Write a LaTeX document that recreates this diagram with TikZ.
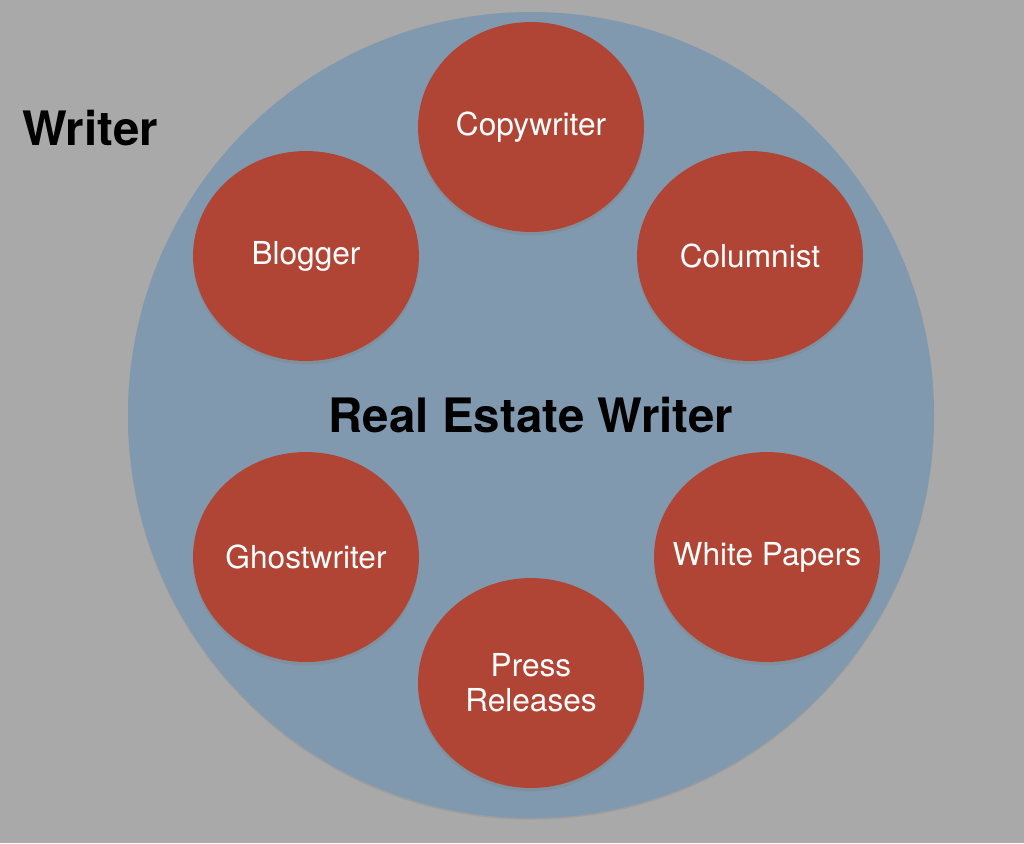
\documentclass[tikz,border=0pt]{standalone}
\usepackage{fontspec}
\setmainfont{TeX Gyre Heros}
\usetikzlibrary{shapes.geometric,shadows}
\definecolor{bggray}{RGB}{168,169,168}
\definecolor{ringblue}{RGB}{128,153,174}
\definecolor{rolered}{RGB}{176,69,53}
\tikzset{
  role/.style={ellipse, fill=rolered, inner xsep=-1.5cm, inner ysep=-0.6cm,
    minimum width=4.52cm, minimum height=4.2cm, text=white,
    font=\fontsize{18}{22}\selectfont, align=center,
    drop shadow={opacity=0.35, shadow xshift=0pt, shadow yshift=-2pt}},
  title/.style={font=\fontsize{27}{32}\selectfont\bfseries, text=black}
}
\begin{document}
\begin{tikzpicture}[x=0.02cm, y=-0.02cm]
  % Background and outer circle
  \fill[bggray] (0,0) rectangle (1024,843);
  \useasboundingbox (0,0) rectangle (1024,843);
  \fill[ringblue, drop shadow={opacity=0.25, shadow xshift=0pt, shadow yshift=-1pt}] (531,415) circle (403);
  % Labels
  \node[title] (writer) at (90,128) {Writer};
  \node[title] (rew) at (531,415) {Real Estate Writer};
  % Roles
  \node[role] (copy) at (531,127) {Copywriter};
  \node[role] (blog) at (306,256) {Blogger};
  \node[role] (column) at (750,256) {Columnist};
  \node[role] (ghost) at (306,557) {Ghostwriter};
  \node[role] (white) at (767,557) {White Papers};
  \node[role] (press) at (531,683) {Press\\[-2pt]Releases};
\end{tikzpicture}
\end{document}
